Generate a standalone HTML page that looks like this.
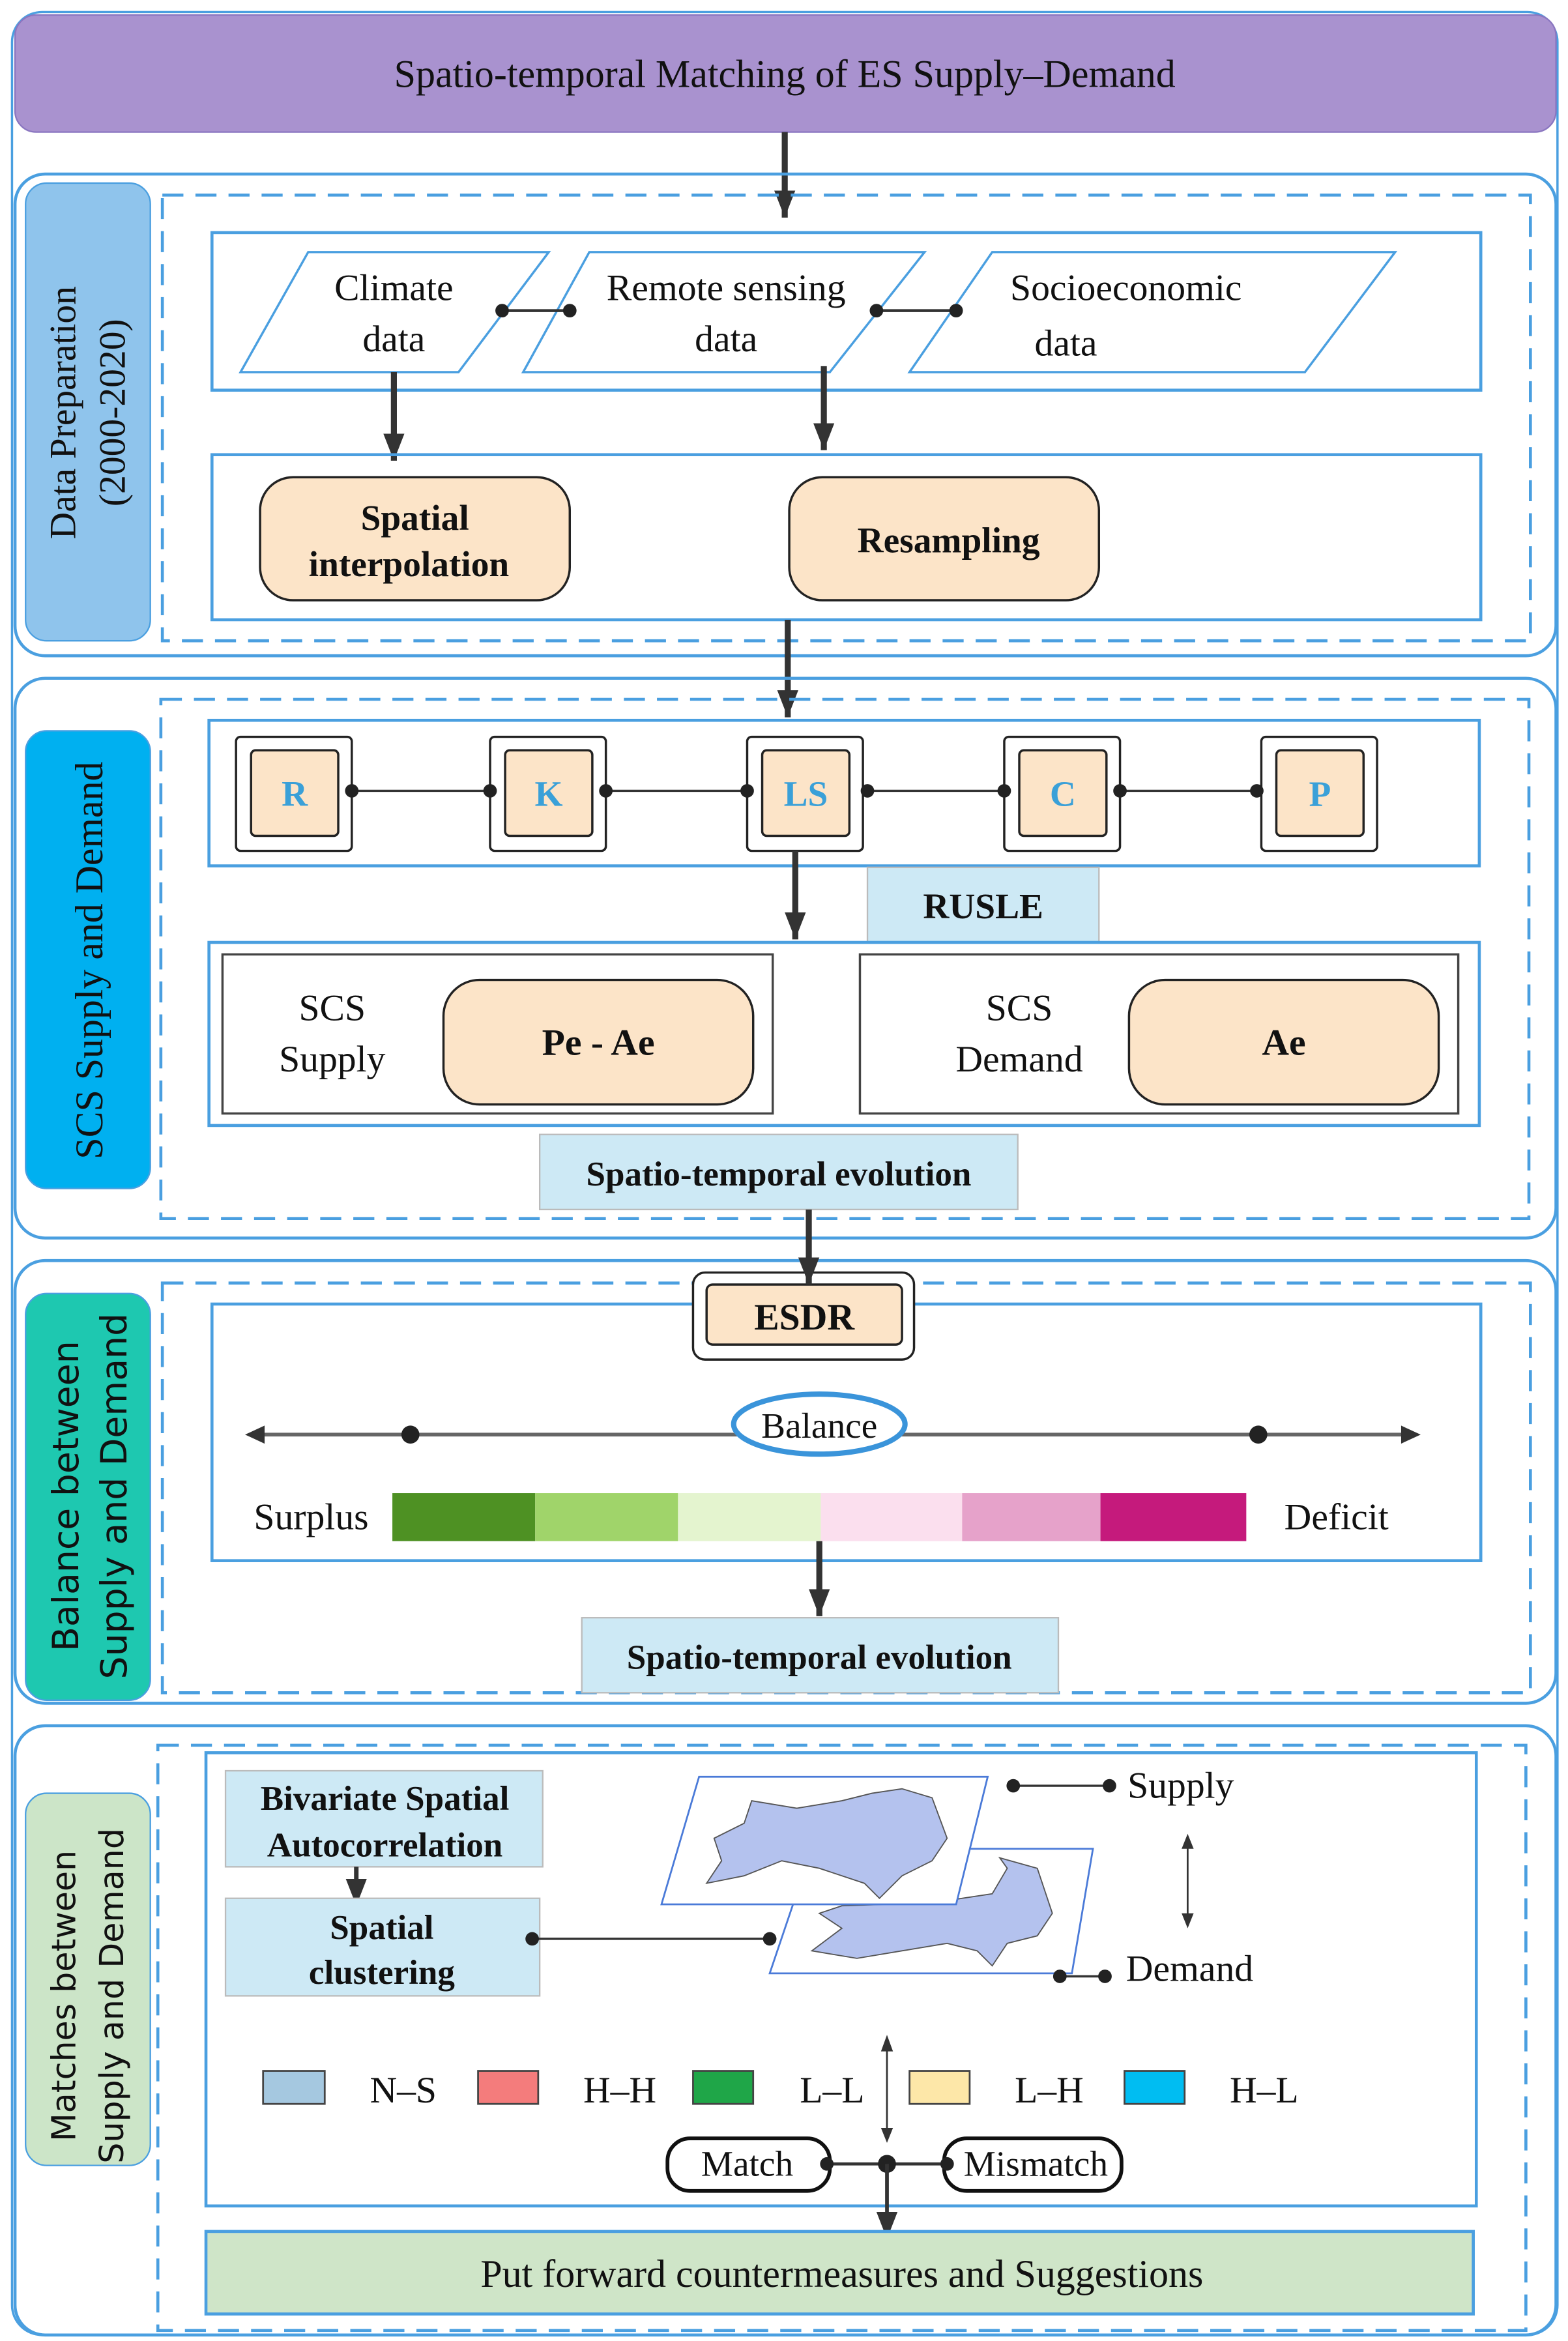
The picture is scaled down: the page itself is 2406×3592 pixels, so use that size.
<!DOCTYPE html>
<html><head><meta charset="utf-8"><style>
html,body{margin:0;padding:0;background:#fff}
svg{display:block}
text{font-family:"Liberation Serif",serif;fill:#111}
.b{font-weight:bold}
.s{font-family:"DejaVu Sans","Liberation Sans",sans-serif}
</style></head><body>
<svg width="2406" height="3592" viewBox="0 0 1043 1560" preserveAspectRatio="none" xmlns="http://www.w3.org/2000/svg">
<defs>
<marker id="ah" markerWidth="20" markerHeight="16" refX="18" refY="8" orient="auto" markerUnits="userSpaceOnUse"><path d="M0,1 L18,8 L0,15 z" fill="#333"/></marker>
</defs>
<rect x="8" y="8" width="1028" height="1548" rx="20" fill="#fff" stroke="#4a9fe0" stroke-width="1.5"/>
<rect x="10" y="10" width="1025" height="78" rx="14" fill="#a992cf" stroke="#8a76c0"/>
<text x="522" y="58" font-size="26" text-anchor="middle">Spatio-temporal  Matching of ES Supply–Demand</text>
<line x1="522" y1="88" x2="522" y2="145" stroke="#333" stroke-width="4" marker-end="url(#ah)"/>

<!-- Section 1 -->
<rect x="10" y="116" width="1025" height="321" rx="20" fill="none" stroke="#4a9fe0" stroke-width="2"/>
<rect x="17" y="122" width="83" height="305" rx="14" fill="#8fc4ec" stroke="#4a9fe0"/>
<text transform="translate(50,275) rotate(-90)" font-size="25" text-anchor="middle">Data Preparation</text>
<text transform="translate(83,275) rotate(-90)" font-size="25" text-anchor="middle">(2000-2020)</text>
<rect x="108" y="130" width="910" height="297" fill="none" stroke="#4a9fe0" stroke-width="2" stroke-dasharray="14,8"/>
<rect x="141" y="155" width="844" height="105" fill="none" stroke="#4a9fe0" stroke-width="2"/>
<polygon points="205,168 365,168 305,248 160,248" fill="#fff" stroke="#4a9fe0" stroke-width="1.5"/>
<polygon points="392,168 615,168 552,248 348,248" fill="#fff" stroke="#4a9fe0" stroke-width="1.5"/>
<polygon points="660,168 928,168 868,248 605,248" fill="#fff" stroke="#4a9fe0" stroke-width="1.5"/>
<text x="262" y="200" font-size="25" text-anchor="middle">Climate</text>
<text x="262" y="234" font-size="25" text-anchor="middle">data</text>
<text x="483" y="200" font-size="25" text-anchor="middle">Remote sensing</text>
<text x="483" y="234" font-size="25" text-anchor="middle">data</text>
<text x="749" y="200" font-size="25" text-anchor="middle">Socioeconomic</text>
<text x="709" y="237" font-size="25" text-anchor="middle">data</text>
<line x1="334" y1="207" x2="379" y2="207" stroke="#333" stroke-width="2"/>
<circle cx="334" cy="207" r="4.5" fill="#222"/><circle cx="379" cy="207" r="4.5" fill="#222"/>
<line x1="583" y1="207" x2="636" y2="207" stroke="#333" stroke-width="2"/>
<circle cx="583" cy="207" r="4.5" fill="#222"/><circle cx="636" cy="207" r="4.5" fill="#222"/>
<line x1="262" y1="248" x2="262" y2="307" stroke="#333" stroke-width="4" marker-end="url(#ah)"/>
<line x1="548" y1="244" x2="548" y2="300" stroke="#333" stroke-width="4" marker-end="url(#ah)"/>
<rect x="141" y="303" width="844" height="110" fill="none" stroke="#4a9fe0" stroke-width="2"/>
<rect x="173" y="318" width="206" height="82" rx="22" fill="#fce4c8" stroke="#222" stroke-width="1.5"/>
<text x="276" y="353" font-size="24" class="b" text-anchor="middle">Spatial</text>
<text x="272" y="384" font-size="24" class="b" text-anchor="middle">interpolation</text>
<rect x="525" y="318" width="206" height="82" rx="22" fill="#fce4c8" stroke="#222" stroke-width="1.5"/>
<text x="631" y="368" font-size="24" class="b" text-anchor="middle">Resampling</text>
<line x1="524" y1="413" x2="524" y2="478" stroke="#333" stroke-width="4" marker-end="url(#ah)"/>

<!-- Section 2 -->
<rect x="10" y="452" width="1025" height="373" rx="20" fill="none" stroke="#4a9fe0" stroke-width="2"/>
<rect x="17" y="487" width="83" height="305" rx="14" fill="#00b0f0" stroke="#4a9fe0"/>
<text transform="translate(68,640) rotate(-90)" font-size="26" text-anchor="middle">SCS Supply and Demand</text>
<rect x="107" y="466" width="910" height="346" fill="none" stroke="#4a9fe0" stroke-width="2" stroke-dasharray="14,8"/>
<rect x="139" y="480" width="845" height="97" fill="none" stroke="#4a9fe0" stroke-width="2"/>
<g font-size="24" class="b">
<rect x="157" y="491" width="77" height="76" rx="3" fill="#fff" stroke="#222" stroke-width="1.5"/>
<rect x="167" y="500" width="58" height="57" rx="3" fill="#fce4c8" stroke="#222" stroke-width="1.5"/>
<text x="196" y="537" text-anchor="middle" class="b" style="fill:#3aa0d8">R</text>
<rect x="326" y="491" width="77" height="76" rx="3" fill="#fff" stroke="#222" stroke-width="1.5"/>
<rect x="336" y="500" width="58" height="57" rx="3" fill="#fce4c8" stroke="#222" stroke-width="1.5"/>
<text x="365" y="537" text-anchor="middle" class="b" style="fill:#3aa0d8">K</text>
<rect x="497" y="491" width="77" height="76" rx="3" fill="#fff" stroke="#222" stroke-width="1.5"/>
<rect x="507" y="500" width="58" height="57" rx="3" fill="#fce4c8" stroke="#222" stroke-width="1.5"/>
<text x="536" y="537" text-anchor="middle" class="b" style="fill:#3aa0d8">LS</text>
<rect x="668" y="491" width="77" height="76" rx="3" fill="#fff" stroke="#222" stroke-width="1.5"/>
<rect x="678" y="500" width="58" height="57" rx="3" fill="#fce4c8" stroke="#222" stroke-width="1.5"/>
<text x="707" y="537" text-anchor="middle" class="b" style="fill:#3aa0d8">C</text>
<rect x="839" y="491" width="77" height="76" rx="3" fill="#fff" stroke="#222" stroke-width="1.5"/>
<rect x="849" y="500" width="58" height="57" rx="3" fill="#fce4c8" stroke="#222" stroke-width="1.5"/>
<text x="878" y="537" text-anchor="middle" class="b" style="fill:#3aa0d8">P</text>
</g>
<g stroke="#333" stroke-width="1.5">
<line x1="234" y1="527" x2="326" y2="527"/><line x1="403" y1="527" x2="497" y2="527"/>
<line x1="574" y1="527" x2="668" y2="527"/><line x1="745" y1="527" x2="839" y2="527"/>
</g>
<g fill="#222">
<circle cx="234" cy="527" r="4.5"/><circle cx="326" cy="527" r="4.5"/><circle cx="403" cy="527" r="4.5"/><circle cx="497" cy="527" r="4.5"/>
<circle cx="577" cy="527" r="4.5"/><circle cx="668" cy="527" r="4.5"/><circle cx="745" cy="527" r="4.5"/><circle cx="836" cy="527" r="4.5"/>
</g>
<line x1="529" y1="567" x2="529" y2="626" stroke="#333" stroke-width="4" marker-end="url(#ah)"/>
<rect x="577" y="578" width="154" height="50" fill="#cde9f5" stroke="#bbb"/>
<text x="654" y="612" font-size="24" class="b" text-anchor="middle">RUSLE</text>
<rect x="139" y="628" width="845" height="122" fill="none" stroke="#4a9fe0" stroke-width="2"/>
<rect x="148" y="636" width="366" height="106" fill="#fff" stroke="#444" stroke-width="1.5"/>
<text x="221" y="680" font-size="25" text-anchor="middle">SCS</text>
<text x="221" y="714" font-size="25" text-anchor="middle">Supply</text>
<rect x="295" y="653" width="206" height="83" rx="24" fill="#fce4c8" stroke="#222" stroke-width="1.5"/>
<text x="398" y="703" font-size="25" class="b" text-anchor="middle">Pe - Ae</text>
<rect x="572" y="636" width="398" height="106" fill="#fff" stroke="#444" stroke-width="1.5"/>
<text x="678" y="680" font-size="25" text-anchor="middle">SCS</text>
<text x="678" y="714" font-size="25" text-anchor="middle">Demand</text>
<rect x="751" y="653" width="206" height="83" rx="24" fill="#fce4c8" stroke="#222" stroke-width="1.5"/>
<text x="854" y="703" font-size="25" class="b" text-anchor="middle">Ae</text>
<rect x="359" y="756" width="318" height="50" fill="#cde9f5" stroke="#bbb"/>
<text x="518" y="790" font-size="23" class="b" text-anchor="middle">Spatio-temporal evolution</text>

<!-- Section 3 -->
<rect x="10" y="840" width="1025" height="295" rx="20" fill="none" stroke="#4a9fe0" stroke-width="2"/>
<rect x="17" y="862" width="83" height="271" rx="14" fill="#1ec8b0" stroke="#4a9fe0"/>
<text transform="translate(52,997) rotate(-90)" font-size="24" text-anchor="middle" class="s">Balance between</text>
<text transform="translate(84,997) rotate(-90)" font-size="24" text-anchor="middle" class="s">Supply and Demand</text>
<rect x="108" y="855" width="910" height="273" fill="none" stroke="#4a9fe0" stroke-width="2" stroke-dasharray="14,8"/>
<rect x="141" y="869" width="844" height="171" fill="none" stroke="#4a9fe0" stroke-width="2"/>
<rect x="461" y="848" width="147" height="58" rx="8" fill="#fff" stroke="#222" stroke-width="1.5"/>
<rect x="470" y="856" width="130" height="40" rx="4" fill="#fce4c8" stroke="#222" stroke-width="1.5"/>
<text x="535" y="886" font-size="25" class="b" text-anchor="middle">ESDR</text>
<line x1="538" y1="806" x2="538" y2="856" stroke="#333" stroke-width="4" marker-end="url(#ah)"/>
<line x1="170" y1="956" x2="938" y2="956" stroke="#666" stroke-width="2.5"/>
<path d="M163,956 L176,950 L176,962z" fill="#333"/><path d="M945,956 L932,950 L932,962z" fill="#333"/>
<circle cx="273" cy="956" r="6" fill="#222"/><circle cx="837" cy="956" r="6" fill="#222"/>
<ellipse cx="545" cy="949" rx="57" ry="20" fill="#fff" stroke="#3a94da" stroke-width="3.5"/>
<text x="545" y="958" font-size="24" text-anchor="middle">Balance</text>
<text x="207" y="1019" font-size="25" text-anchor="middle">Surplus</text>
<rect x="261" y="995" width="95" height="32" fill="#4e9123"/>
<rect x="356" y="995" width="95" height="32" fill="#a0d46a"/>
<rect x="451" y="995" width="95" height="32" fill="#e4f4cf"/>
<rect x="546" y="995" width="94" height="32" fill="#fbdfee"/>
<rect x="640" y="995" width="92" height="32" fill="#e6a2ca"/>
<rect x="732" y="995" width="97" height="32" fill="#c51a7c"/>
<text x="889" y="1019" font-size="25" text-anchor="middle">Deficit</text>
<line x1="545" y1="1027" x2="545" y2="1077" stroke="#333" stroke-width="4" marker-end="url(#ah)"/>
<rect x="387" y="1078" width="317" height="50" fill="#cde9f5" stroke="#bbb"/>
<text x="545" y="1112" font-size="23" class="b" text-anchor="middle">Spatio-temporal evolution</text>

<!-- Section 4 -->
<rect x="10" y="1150" width="1025" height="406" rx="20" fill="none" stroke="#4a9fe0" stroke-width="2"/>
<rect x="17" y="1195" width="83" height="248" rx="14" fill="#cce5c8" stroke="#4a9fe0"/>
<text transform="translate(50,1330) rotate(-90)" font-size="22" text-anchor="middle" class="s">Matches between</text>
<text transform="translate(82,1330) rotate(-90)" font-size="22" text-anchor="middle" class="s">Supply and Demand</text>
<rect x="105" y="1163" width="910" height="390" fill="none" stroke="#4a9fe0" stroke-width="2" stroke-dasharray="14,8"/>
<rect x="137" y="1168" width="845" height="302" fill="none" stroke="#4a9fe0" stroke-width="2"/>
<rect x="150" y="1180" width="211" height="64" fill="#cde9f5" stroke="#bbb"/>
<text x="256" y="1206" font-size="23" class="b" text-anchor="middle">Bivariate Spatial</text>
<text x="256" y="1237" font-size="23" class="b" text-anchor="middle">Autocorrelation</text>
<line x1="237" y1="1244" x2="237" y2="1270" stroke="#333" stroke-width="3" marker-end="url(#ah)"/>
<rect x="150" y="1265" width="209" height="65" fill="#cde9f5" stroke="#bbb"/>
<text x="254" y="1292" font-size="23" class="b" text-anchor="middle">Spatial</text>
<text x="254" y="1322" font-size="23" class="b" text-anchor="middle">clustering</text>
<line x1="354" y1="1292" x2="512" y2="1292" stroke="#333" stroke-width="1.5"/>
<circle cx="354" cy="1292" r="4.5" fill="#222"/><circle cx="512" cy="1292" r="4.5" fill="#222"/>
<polygon points="540,1232 727,1232 713,1315 512,1315" fill="#fff" stroke="#4a7ad8" stroke-width="1.2"/>
<path d="M540,1300 L560,1285 L545,1275 L560,1270 L620,1268 L660,1262 L670,1245 L665,1238 L690,1245 L700,1275 L690,1290 L670,1295 L660,1310 L650,1300 L630,1295 L600,1300 L570,1305 Z" fill="#b4c2ee" stroke="#555" stroke-width="0.8"/>
<polygon points="465,1184 657,1184 636,1269 440,1269" fill="#fff" stroke="#4a7ad8" stroke-width="1.2"/>
<path d="M470,1255 L480,1240 L475,1225 L495,1215 L500,1200 L530,1205 L560,1200 L580,1195 L600,1192 L620,1198 L630,1225 L620,1240 L600,1250 L585,1265 L575,1255 L545,1245 L520,1240 L495,1250 Z" fill="#b4c2ee" stroke="#555" stroke-width="0.8"/>
<line x1="674" y1="1190" x2="738" y2="1190" stroke="#333" stroke-width="1.5"/>
<circle cx="674" cy="1190" r="4.5" fill="#222"/><circle cx="738" cy="1190" r="4.5" fill="#222"/>
<text x="750" y="1198" font-size="25">Supply</text>
<line x1="705" y1="1317" x2="735" y2="1317" stroke="#333" stroke-width="1.5"/>
<circle cx="705" cy="1317" r="4.5" fill="#222"/><circle cx="735" cy="1317" r="4.5" fill="#222"/>
<text x="749" y="1320" font-size="25">Demand</text>
<line x1="790" y1="1225" x2="790" y2="1282" stroke="#333" stroke-width="1.2"/>
<path d="M790,1222 L786,1232 L794,1232z M790,1285 L786,1275 L794,1275z" fill="#333"/>
<g stroke="#444" stroke-width="1.2">
<rect x="175" y="1380" width="41" height="22" fill="#a5c8e0"/>
<rect x="318" y="1380" width="40" height="22" fill="#f47c7c"/>
<rect x="461" y="1380" width="40" height="22" fill="#1fa648"/>
<rect x="605" y="1380" width="40" height="22" fill="#fde7a8"/>
<rect x="748" y="1380" width="40" height="22" fill="#00bdf2"/>
</g>
<g font-size="25">
<text x="246" y="1401">N–S</text><text x="388" y="1401">H–H</text><text x="532" y="1401">L–L</text>
<text x="675" y="1401">L–H</text><text x="818" y="1401">H–L</text>
</g>
<line x1="590" y1="1360" x2="590" y2="1425" stroke="#333" stroke-width="1.2"/>
<path d="M590,1356 L586,1367 L594,1367z M590,1428 L586,1418 L594,1418z" fill="#333"/>
<rect x="444" y="1425" width="108" height="35" rx="15" fill="#fff" stroke="#111" stroke-width="2.5"/>
<text x="497" y="1450" font-size="24" text-anchor="middle">Match</text>
<rect x="628" y="1425" width="118" height="35" rx="15" fill="#fff" stroke="#111" stroke-width="2.5"/>
<text x="689" y="1450" font-size="24" text-anchor="middle">Mismatch</text>
<line x1="550" y1="1442" x2="630" y2="1442" stroke="#333" stroke-width="2"/>
<circle cx="550" cy="1442" r="4.5" fill="#222"/><circle cx="590" cy="1442" r="6" fill="#222"/><circle cx="630" cy="1442" r="4.5" fill="#222"/>
<line x1="590" y1="1442" x2="590" y2="1492" stroke="#333" stroke-width="2.5" marker-end="url(#ah)"/>
<rect x="137" y="1487" width="843" height="55" fill="#cfe5c8" stroke="#4a9fe0" stroke-width="2"/>
<text x="560" y="1524" font-size="26" text-anchor="middle">Put forward countermeasures and Suggestions</text>
</svg>
</body></html>
